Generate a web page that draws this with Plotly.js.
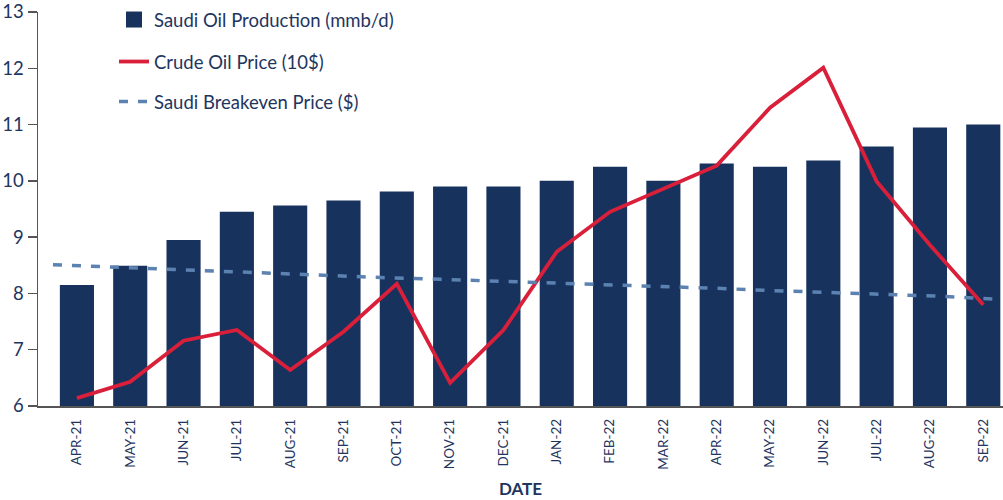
<!DOCTYPE html>
<html>
<head>
<meta charset="utf-8">
<script src="https://cdn.plot.ly/plotly-3.0.1.min.js"></script>
<style>html,body{margin:0;padding:0;background:#fff;}#chart{width:1003px;height:500px;}</style>
</head>
<body>
<div id="chart"></div>
<script>
const months = ["APR-21","MAY-21","JUN-21","JUL-21","AUG-21","SEP-21","OCT-21","NOV-21","DEC-21","JAN-22","FEB-22","MAR-22","APR-22","MAY-22","JUN-22","JUL-22","AUG-22","SEP-22"];
const production = [8.15,8.49,8.95,9.45,9.56,9.65,9.81,9.9,9.9,10.0,10.25,10.0,10.31,10.25,10.36,10.61,10.95,11.0];
const crudePrice = [6.14,6.43,7.16,7.35,6.64,7.32,8.17,6.41,7.35,8.74,9.45,9.86,10.27,11.3,12.01,9.99,8.86,7.8];
const breakeven = [8.51,8.47,8.43,8.39,8.35,8.31,8.28,8.25,8.22,8.19,8.15,8.12,8.09,8.05,8.02,7.98,7.95,7.9];
const yTicks = [6,7,8,9,10,11,12,13];

const navy = "#18325e", red = "#d91f3a", steel = "#5b82b0", txt = "#1e3560", axisGray = "#555555";
const idx = months.map((m,i)=>i);
const font = "Lato, 'Source Sans Pro', 'Noto Sans', sans-serif";

const traces = [
  {type:"bar", x:months, y:production, marker:{color:navy}, width:0.64, showlegend:false, hoverinfo:"x+y"},
  {type:"scatter", mode:"markers", x:[null], y:[null], name:"Saudi Oil Production (mmb/d)", marker:{symbol:"square", size:16, color:navy}, legend:"legend"},
  {type:"scatter", mode:"lines", x:months, y:crudePrice, name:"Crude Oil Price (10$)", line:{color:red, width:3.8}, legend:"legend2"},
  {type:"scatter", mode:"lines", x:idx, y:breakeven, xaxis:"x2", name:"Saudi Breakeven Price ($)", line:{color:steel, width:3.5, dash:"9px,10px"}, legend:"legend3"}
];

const legBase = {font:{family:font, size:18.5, color:txt}, bgcolor:"rgba(0,0,0,0)", xanchor:"left", yanchor:"middle", xref:"paper", yref:"paper"};
const plotW = 965, plotH = 394;
function lx(px){return (px-38)/plotW;}
function ly(py){return (406-py)/plotH;}

const layout = {
  width:1003, height:500,
  margin:{l:38, r:0, t:12, b:94},
  paper_bgcolor:"#fff", plot_bgcolor:"#fff",
  font:{family:font, color:txt},
  bargap:0.36,
  xaxis:{type:"category", range:[-0.73,17.37], showgrid:false, zeroline:false, showline:true, linecolor:axisGray, linewidth:1.5,
    ticks:"", tickangle:-90, tickfont:{family:font, size:13.5, color:txt}, ticklabelstandoff:6,
    title:{text:"DATE", font:{family:font, size:17, color:txt, weight:"bold"}, standoff:14}},
  xaxis2:{overlaying:"x", range:[-0.27,17.15], visible:false, showgrid:false, zeroline:false},
  yaxis:{range:[6,13], tickvals:yTicks, showgrid:false, zeroline:false, showline:true, linecolor:axisGray, linewidth:1.5,
    ticks:"outside", ticklen:9, tickcolor:axisGray, tickwidth:1.5, tickfont:{family:font, size:18.5, color:txt}},
  legend:Object.assign({}, legBase, {x:lx(114), y:ly(20)}),
  legend2:Object.assign({}, legBase, {x:lx(114), y:ly(62)}),
  legend3:Object.assign({}, legBase, {x:lx(114), y:ly(102)}),
  showlegend:true
};

Plotly.newPlot("chart", traces, layout, {displayModeBar:false, staticPlot:true});
</script>
</body>
</html>
